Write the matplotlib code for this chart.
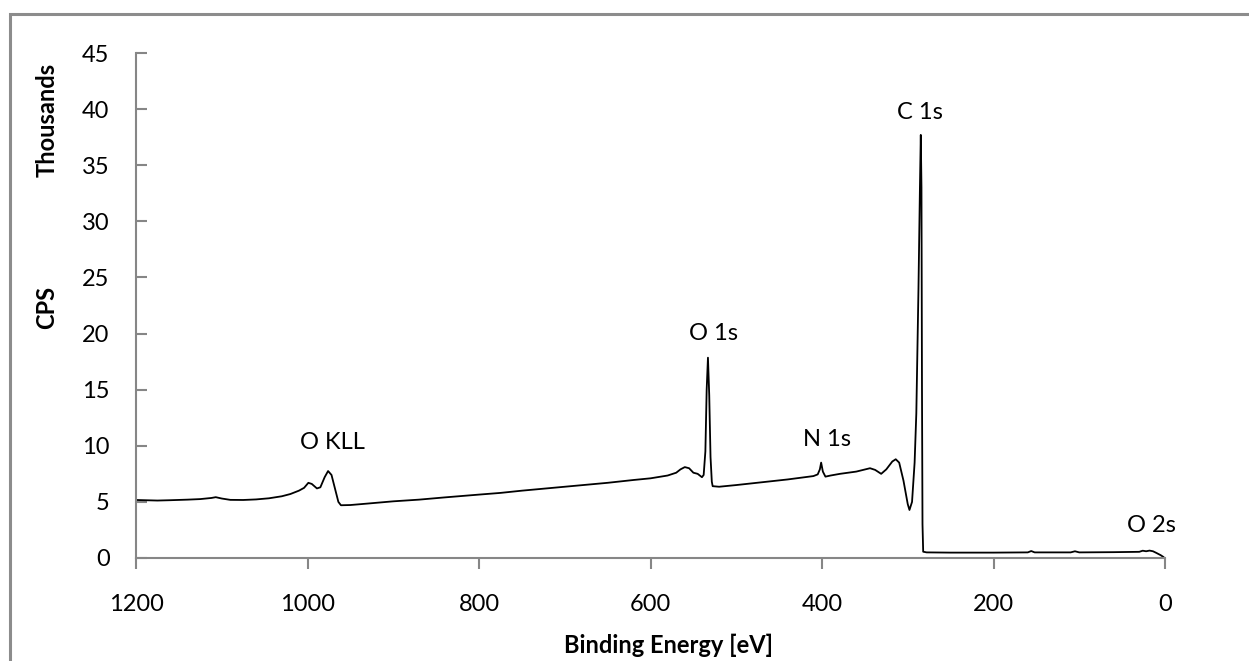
import numpy as np
import matplotlib.pyplot as plt
from matplotlib.patches import Rectangle

# XPS survey spectrum, binding energy (eV) vs counts per second
energia = [1200, 1190, 1175, 1160, 1140, 1125, 1112, 1107, 1100, 1090, 1075, 1060,
           1045, 1030, 1020, 1010, 1004, 999, 995, 989, 985, 980, 976, 972, 968,
           964, 961, 950, 930, 900, 870, 840, 800, 775, 750, 700, 650, 620, 600,
           580, 570, 565, 560, 555, 550, 545, 540, 538, 536, 534.5, 533, 531.5,
           530, 528.5, 527.5, 520, 500, 470, 440, 420, 410, 405, 402.5, 401, 399,
           396, 390, 379, 360, 344, 338, 331, 325, 318, 314, 310, 305, 300, 298,
           295, 292, 290, 287.5, 285.8, 284.8, 284.0, 283.4, 282.8, 282, 278,
           250, 200, 160, 156, 152, 110, 105, 100, 60, 30, 26, 22, 18, 14, 10,
           5, 2]
cps = [5170, 5150, 5120, 5150, 5200, 5250, 5350, 5420, 5300, 5180, 5170, 5220,
       5320, 5500, 5700, 6000, 6250, 6700, 6600, 6200, 6300, 7200, 7750, 7400, 6200,
       5000, 4700, 4720, 4850, 5050, 5200, 5400, 5650, 5800, 6000, 6350, 6700, 6950, 7100,
       7350, 7600, 7900, 8100, 8000, 7600, 7500, 7200, 7400, 9500, 15000, 17850, 14500,
       9000, 6800, 6400, 6350, 6500, 6750, 7000, 7200, 7300, 7450, 7900, 8500, 7700,
       7250, 7350, 7500, 7700, 8000, 7850, 7500, 7900, 8600, 8800, 8500, 6900, 4800, 4280,
       5000, 8500, 12900, 24000, 33000, 37700, 33000, 15000, 3000, 560, 500,
       480, 480, 500, 620, 500, 500, 600, 500, 520, 550, 650, 600, 660, 600, 450,
       250, 100]

picos = ["O KLL", "O 1s", "N 1s", "C 1s", "O 2s"]
picos_x = [971, 527, 394, 286, 16]
picos_y = [10.3, 20.0, 10.6, 39.7, 2.9]

gris = "#868686"
plt.rcParams['font.family'] = ['Lato', 'DejaVu Sans']
fs = 17

fig = plt.figure(figsize=(12.49, 6.61), dpi=100)
ax = fig.add_axes([136/1249, 1-558/661, (1165-136)/1249, (558-53)/661])

ax.plot(energia, np.array(cps)/1000, color='k', lw=1.3)

for t, x, y in zip(picos, picos_x, picos_y):
    ax.text(x, y, t, fontsize=fs, ha='center', va='center')

ax.set_xlim(1200, 0)
ax.set_ylim(0, 45)
ax.set_xticks([1200, 1000, 800, 600, 400, 200, 0])
ax.set_yticks(range(0, 50, 5))

for s in ['top', 'right']:
    ax.spines[s].set_visible(False)
for s in ['left', 'bottom']:
    ax.spines[s].set_color(gris)
    ax.spines[s].set_linewidth(1.5)

ax.tick_params(axis='y', direction='in', length=8, width=1.5, color=gris,
               labelsize=fs, pad=19)
ax.tick_params(axis='x', direction='out', length=8, width=1.5, color=gris,
               labelsize=fs, pad=18)

ax.set_xlabel("Binding Energy [eV]", fontsize=fs, fontweight='bold')
ax.xaxis.set_label_coords((668-136)/(1165-136), -(645-558)/(558-53))
ax.set_ylabel("CPS", fontsize=fs, fontweight='bold')
ax.yaxis.set_label_coords(-(136-47)/(1165-136), (558-307)/(558-53))
ax.yaxis.label.set_va('center')
ax.xaxis.label.set_va('center')

fig.text(47/1249, 1-120/661, "Thousands", fontsize=fs, fontweight='bold',
         rotation=90, ha='center', va='center')

# marco gris alrededor del grafico
fig.patches.append(Rectangle((9.5/1249, -0.1), 1.2, 1.1-14/661, transform=fig.transFigure,
                             fill=False, edgecolor='#8c8c8c', lw=2.2))

fig.savefig("out.png", dpi=100)
